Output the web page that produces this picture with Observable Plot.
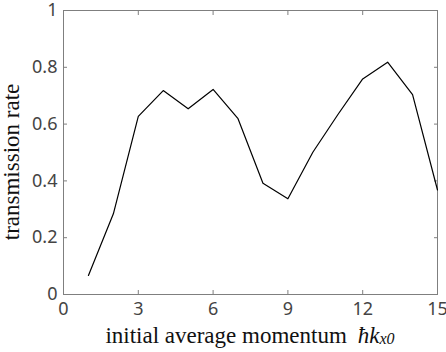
<!DOCTYPE html>
<html>
<head>
<meta charset="utf-8">
<script src="https://cdn.jsdelivr.net/npm/d3@7"></script>
<script src="https://cdn.jsdelivr.net/npm/@observablehq/plot@0.6"></script>
<style>
  html, body { margin: 0; padding: 0; background: #fff; }
</style>
</head>
<body>
<div id="chart"></div>
<script>
const momentum = [1, 2, 3, 4, 5, 6, 7, 8, 9, 10, 11, 12, 13, 14, 15];
const transmission = [0.067, 0.284, 0.627, 0.718, 0.654, 0.722, 0.619, 0.392, 0.337, 0.501, 0.633, 0.759, 0.818, 0.704, 0.368];
const xTicks = [0, 3, 6, 9, 12, 15];
const xTickLabels = ["0", "3", "6", "9", "12", "15"];
const yTicks = [0, 0.2, 0.4, 0.6, 0.8, 1];
const yTickLabels = ["0", "0.2", "0.4", "0.6", "0.8", "1"];

const data = momentum.map((m, i) => ({m, t: transmission[i]}));
const axisGray = "#7f7f7f";
const labelGray = "#444444";

const chart = Plot.plot({
  width: 446,
  height: 352,
  marginLeft: 63,
  marginRight: 9,
  marginTop: 10,
  marginBottom: 58,
  style: {fontFamily: "'Noto Sans', sans-serif", fontSize: "18px", background: "#fff", color: labelGray},
  x: {domain: [0, 15]},
  y: {domain: [0, 1]},
  marks: [
    Plot.frame({stroke: axisGray}),
    Plot.axisX(xTicks, {anchor: "bottom", tickSize: -4, tickPadding: 12, stroke: axisGray, fill: labelGray,
      tickFormat: d => xTickLabels[xTicks.indexOf(d)], label: null}),
    Plot.axisX(xTicks, {anchor: "top", tickSize: -4, stroke: axisGray, fill: "none", label: null}),
    Plot.axisY(yTicks, {anchor: "left", tickSize: -4, tickPadding: 10, stroke: axisGray, fill: labelGray,
      tickFormat: d => yTickLabels[yTicks.indexOf(d)], label: null}),
    Plot.axisY(yTicks, {anchor: "right", tickSize: -4, stroke: axisGray, fill: "none", label: null}),
    Plot.line(data, {x: "m", y: "t", stroke: "black", strokeWidth: 1.2})
  ]
});

document.getElementById("chart").appendChild(chart);

const svg = d3.select(chart);
const serif = "'Liberation Serif', 'Times New Roman', serif";

const xl = svg.append("text")
  .attr("x", 250).attr("y", 343)
  .attr("text-anchor", "middle")
  .attr("font-family", serif)
  .attr("font-size", 23)
  .attr("fill", "#111");
xl.append("tspan").text("initial average momentum");
xl.append("tspan").attr("dx", 11).attr("font-style", "italic").text("ħk");
xl.append("tspan").attr("font-style", "italic").attr("font-size", 16).attr("dy", 1).text("x0");

svg.append("text")
  .attr("transform", "translate(19,162) rotate(-90)")
  .attr("text-anchor", "middle")
  .attr("font-family", serif)
  .attr("font-size", 23)
  .attr("fill", "#111")
  .text("transmission rate");
</script>
</body>
</html>
